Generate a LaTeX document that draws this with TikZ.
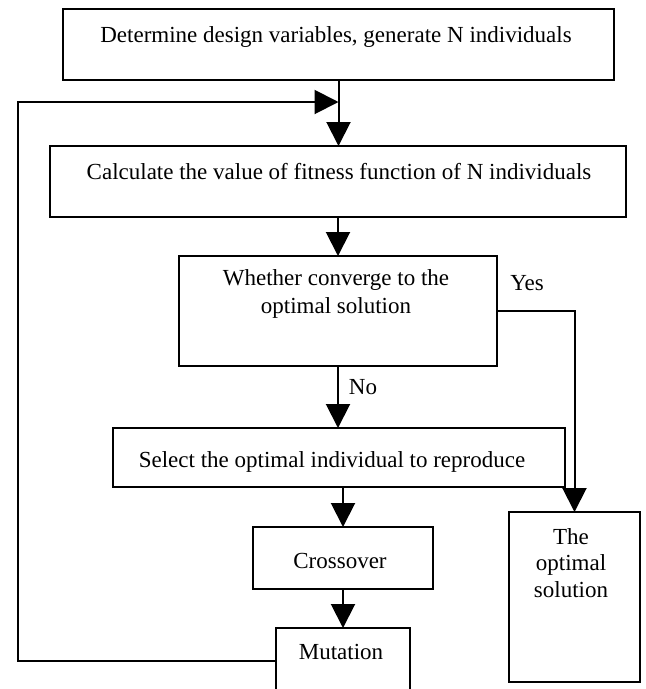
\documentclass[tikz,border=0pt]{standalone}
\usepackage{fontspec}
\setmainfont{Liberation Serif}
\usetikzlibrary{arrows.meta}
\begin{document}
\begin{tikzpicture}[x=1pt,y=-1pt,
  box/.style={draw=black,line width=2pt,inner sep=0pt,outer sep=0pt},
  lbl/.style={font=\fontsize{23}{28}\selectfont,inner sep=0pt,align=center},
  arr/.style={line width=2pt,-{Triangle[length=24pt,width=24pt]}}]
\useasboundingbox (0,0) rectangle (646,689);
\fill[white] (0,0) rectangle (646,689);
\clip (0,0) rectangle (646,689);
% boxes
\node[box,minimum width=551pt,minimum height=71pt] (b1) at (338.5,44.5) {};
\node[box,minimum width=576pt,minimum height=71pt] (b2) at (338,181.5) {};
\node[box,minimum width=318pt,minimum height=110pt] (b3) at (338,311) {};
\node[box,minimum width=452pt,minimum height=59pt] (b4) at (339,457.5) {};
\node[box,minimum width=180pt,minimum height=62pt] (bc) at (343,558) {};
\node[box,minimum width=134pt,minimum height=66pt] (bm) at (343,661) {};
\node[box,minimum width=131pt,minimum height=170pt] (bo) at (574.5,597) {};
% texts
\node[lbl] (t1) at (336,37) {Determine design variables, generate N individuals};
\node[lbl] (t2) at (339,172) {Calculate the value of fitness function of N individuals};
\node[lbl] (t3) at (336,294) {Whether converge to the\\optimal solution};
\node[lbl] (t4) at (332,462) {Select the optimal individual to reproduce};
\node[lbl] (tc) at (340,561) {Crossover};
\node[lbl] (tm) at (341,652) {Mutation};
\node[lbl,font=\fontsize{23}{26.5}\selectfont] (to) at (571,563) {The\\optimal\\solution};
\node[lbl] (yes) at (527,283) {Yes};
\node[lbl] (no) at (363,387) {No};
% connectors
\coordinate (j) at (338.5,102);
\coordinate (fb) at (18,102);
\draw[arr] (b1.south) -- (b1.south |- b2.north);
\draw[arr] (bm.west) -- (bm.west -| fb) |- (j);
\draw[arr] (b2.south) -- (b3.north);
\draw[arr] (b3.south) -- (b3.south |- b4.north);
\draw[arr] (b3.east) -| (bo.north);
\draw[arr] (b4.south -| bc.north) -- (bc.north);
\draw[arr] (bc.south) -- (bm.north);
\end{tikzpicture}
\end{document}
